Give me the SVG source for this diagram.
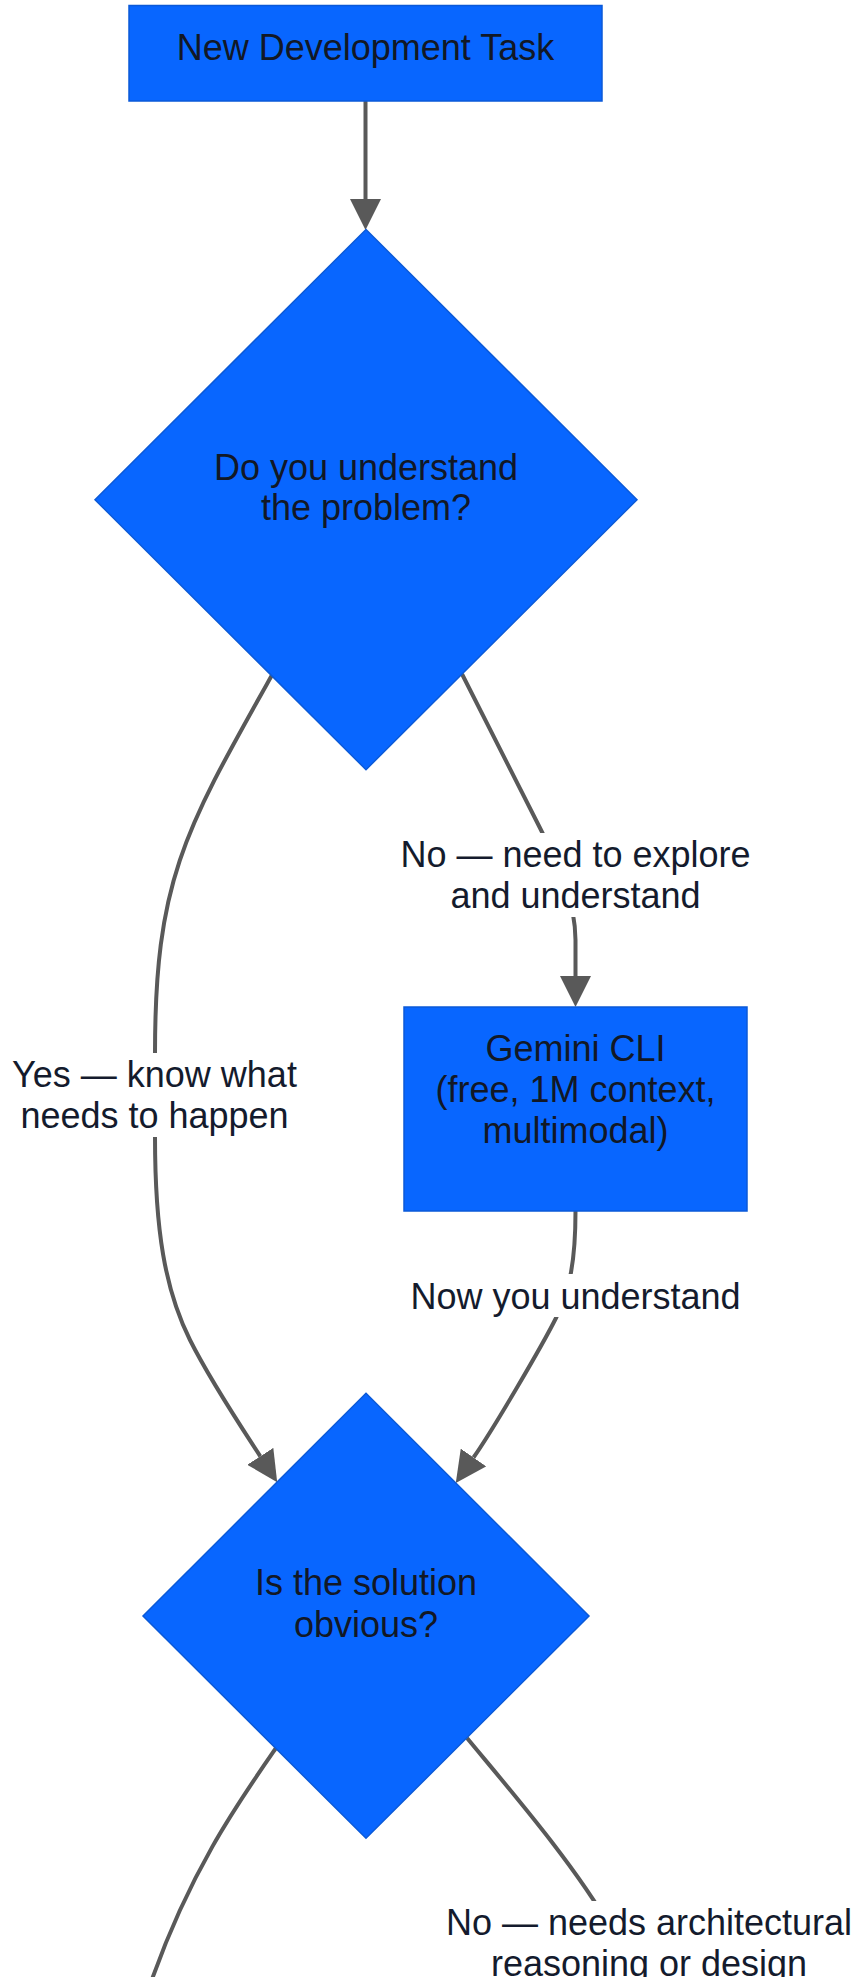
<svg xmlns="http://www.w3.org/2000/svg" width="858" height="1977" viewBox="0 0 858 1977">
  <style>
    .node { fill: #0866ff; stroke: #0b5ad8; stroke-width: 1.5; }
    .node-text { font-family: "Liberation Sans", Arial, sans-serif; font-size: 36px; fill: #121826; text-anchor: middle; }
    .edge { fill: none; stroke: #595959; stroke-width: 4; }
    .label-bg { fill: #ffffff; }
    .label-text { font-family: "Liberation Sans", Arial, sans-serif; font-size: 36px; fill: #141b2d; text-anchor: middle; }
  </style>
  <defs>
    <marker id="arrow" viewBox="0 0 10 10" refX="0" refY="5" markerUnits="userSpaceOnUse" markerWidth="31" markerHeight="31" orient="auto">
      <path d="M0,0 L10,5 L0,10 z" fill="#595959"/>
    </marker>
  </defs>
  <rect x="0" y="0" width="858" height="1977" fill="#ffffff"/>

  <!-- connectors -->
  <g id="connectors">
    <path id="e-start-understand" class="edge" d="M365.5,101 L365.5,199" marker-end="url(#arrow)"/>
    <path id="e-understand-gemini" class="edge" d="M462,674 L540,828 C560,868 575,900 575.5,940 L575.5,976" marker-end="url(#arrow)"/>
    <path id="e-understand-obvious" class="edge" d="M272,675 C185,830 155,880 155,1053 L155,1137 C155,1230 165,1290 190,1340 C210,1380 238,1422 260.3,1456.3" marker-end="url(#arrow)"/>
    <path id="e-gemini-obvious" class="edge" d="M575.5,1211 C575.5,1260 570,1290 556,1318 C542,1346 493.5,1428.8 473.5,1457.5" marker-end="url(#arrow)"/>
    <path id="e-obvious-yes" class="edge" d="M276.7,1747 C240,1800 190,1870 150,1985"/>
    <path id="e-obvious-no" class="edge" d="M467,1738 C510,1790 575,1865 612,1930"/>
  </g>

  <!-- edge labels -->
  <g id="edge-labels">
    <g id="label-no-explore">
      <rect class="label-bg" x="397" y="833" width="357" height="84"/>
      <text class="label-text" x="575.5" y="866.7">No — need to explore</text>
      <text class="label-text" x="575.5" y="908">and understand</text>
    </g>
    <g id="label-yes-know">
      <rect class="label-bg" x="9" y="1053" width="292" height="84"/>
      <text class="label-text" x="154.5" y="1086.7">Yes — know what</text>
      <text class="label-text" x="154.5" y="1128">needs to happen</text>
    </g>
    <g id="label-now">
      <rect class="label-bg" x="407" y="1274" width="337" height="43"/>
      <text class="label-text" x="575.5" y="1309.3">Now you understand</text>
    </g>
    <g id="label-no-arch">
      <rect class="label-bg" x="442" y="1901" width="414" height="90"/>
      <text class="label-text" x="649" y="1935">No — needs architectural</text>
      <text class="label-text" x="649" y="1976">reasoning or design</text>
    </g>
  </g>

  <!-- nodes -->
  <g id="node-start">
    <rect class="node" x="129" y="5.5" width="473" height="95.5"/>
    <text class="node-text" x="365.5" y="60">New Development Task</text>
  </g>
  <g id="node-understand">
    <polygon class="node" points="366,229.5 637,499.7 366,769.7 95,499.7"/>
    <text class="node-text" x="366" y="479.7">Do you understand</text>
    <text class="node-text" x="366" y="520.2">the problem?</text>
  </g>
  <g id="node-gemini">
    <rect class="node" x="404" y="1007" width="343" height="204"/>
    <text class="node-text" x="575.5" y="1060.7">Gemini CLI</text>
    <text class="node-text" x="575.5" y="1102">(free, 1M context,</text>
    <text class="node-text" x="575.5" y="1143.3">multimodal)</text>
  </g>
  <g id="node-obvious">
    <polygon class="node" points="366,1393.3 589,1616 366,1838.3 143,1616"/>
    <text class="node-text" x="366" y="1595">Is the solution</text>
    <text class="node-text" x="366" y="1636.5">obvious?</text>
  </g>
</svg>
